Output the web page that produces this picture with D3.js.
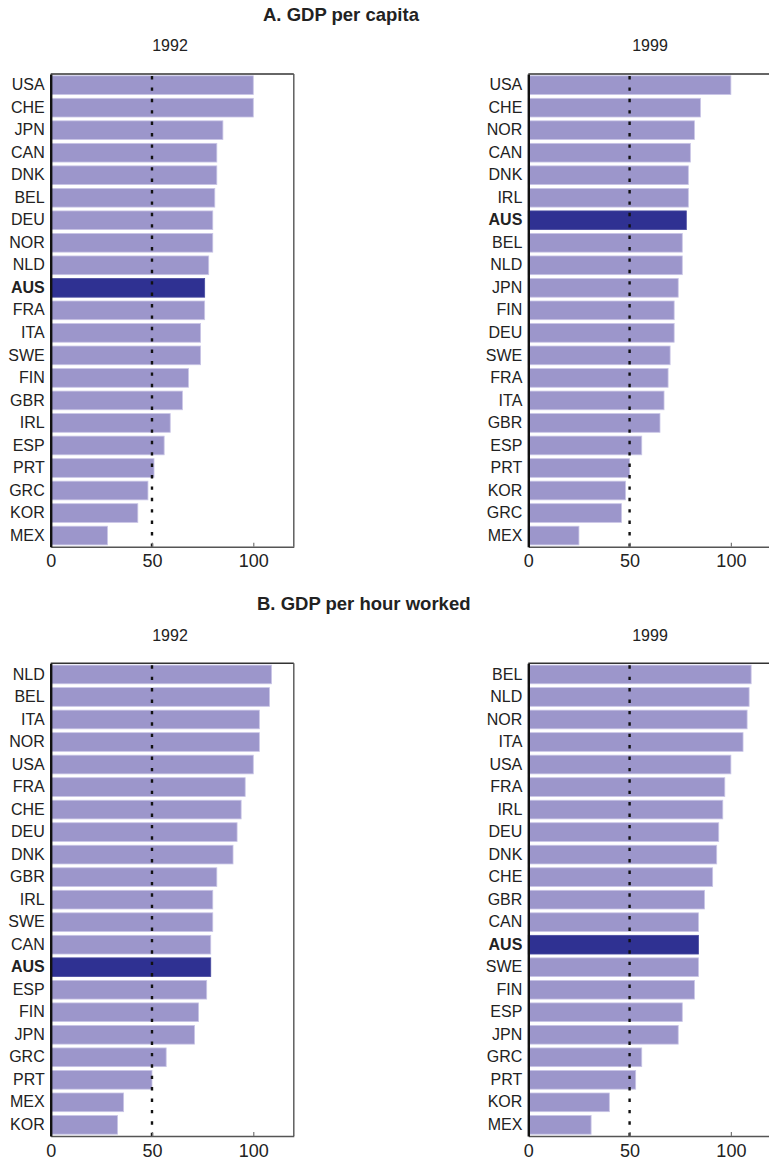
<!DOCTYPE html>
<html>
<head>
<meta charset="utf-8">
<script src="https://cdn.jsdelivr.net/npm/d3@7"></script>
<style>
  html, body { margin: 0; padding: 0; background: #fff; }
  svg { display: block; font-family: "Liberation Sans", Arial, Helvetica, sans-serif; }
</style>
</head>
<body>
<svg id="chart" width="769" height="1163"></svg>
<script>
// ---- Data ----
const titleA = "A. GDP per capita";
const titleB = "B. GDP per hour worked";
const years = ["1992", "1999"];
const tickValues = [0, 50, 100];
const referenceValue = 50;
const highlight = "AUS";

const capita1992Countries = ["USA","CHE","JPN","CAN","DNK","BEL","DEU","NOR","NLD","AUS","FRA","ITA","SWE","FIN","GBR","IRL","ESP","PRT","GRC","KOR","MEX"];
const capita1992Values    = [100,100,85,82,82,81,80,80,78,76,76,74,74,68,65,59,56,51,48,43,28];

const capita1999Countries = ["USA","CHE","NOR","CAN","DNK","IRL","AUS","BEL","NLD","JPN","FIN","DEU","SWE","FRA","ITA","GBR","ESP","PRT","KOR","GRC","MEX"];
const capita1999Values    = [100,85,82,80,79,79,78,76,76,74,72,72,70,69,67,65,56,50,48,46,25];

const hour1992Countries = ["NLD","BEL","ITA","NOR","USA","FRA","CHE","DEU","DNK","GBR","IRL","SWE","CAN","AUS","ESP","FIN","JPN","GRC","PRT","MEX","KOR"];
const hour1992Values    = [109,108,103,103,100,96,94,92,90,82,80,80,79,79,77,73,71,57,50,36,33];

const hour1999Countries = ["BEL","NLD","NOR","ITA","USA","FRA","IRL","DEU","DNK","CHE","GBR","CAN","AUS","SWE","FIN","ESP","JPN","GRC","PRT","KOR","MEX"];
const hour1999Values    = [110,109,108,106,100,97,96,94,93,91,87,84,84,84,82,76,74,56,53,40,31];

// ---- Layout ----
const svg = d3.select("#chart");
const lightColor = "#9c96cb";
const darkColor = "#2f3192";
const textColor = "#222";

function drawPanel(countries, values, x0, yTop, yBottom) {
  const x = d3.scaleLinear().domain([0, 120]).range([x0, x0 + 243.1]);
  const y = d3.scaleBand().domain(countries).range([yTop, yBottom])
    .paddingInner(0.17).paddingOuter(0.08);
  const g = svg.append("g");
  const data = countries.map((c, i) => ({c, v: values[i]}));

  // frame top and right
  g.append("line").attr("x1", x(0)).attr("x2", x(120)).attr("y1", yTop).attr("y2", yTop)
    .attr("stroke", "#333").attr("stroke-width", 1.4);
  g.append("line").attr("x1", x(120)).attr("x2", x(120)).attr("y1", yTop).attr("y2", yBottom)
    .attr("stroke", "#555").attr("stroke-width", 1.4);

  // bars
  g.selectAll("rect.bar").data(data).enter().append("rect")
    .attr("class", "bar")
    .attr("x", x(0))
    .attr("y", d => y(d.c))
    .attr("width", d => x(d.v) - x(0))
    .attr("height", y.bandwidth())
    .attr("fill", d => d.c === highlight ? darkColor : lightColor)
    .attr("stroke", d => d.c === highlight ? "#4a4ca0" : "#c9c5e6")
    .attr("stroke-width", 0.8);

  // reference dotted line
  g.append("line")
    .attr("x1", x(referenceValue)).attr("x2", x(referenceValue))
    .attr("y1", yTop + 2).attr("y2", yBottom)
    .attr("stroke", "#111").attr("stroke-width", 2.4)
    .attr("stroke-dasharray", "3.4,8");

  // x axis
  const xAxis = g.append("g").attr("transform", `translate(0,${yBottom})`)
    .call(d3.axisBottom(x).tickValues(tickValues).tickSize(-4).tickPadding(8).tickSizeOuter(0));
  xAxis.select(".domain").attr("stroke", "#555").attr("stroke-width", 1.4);
  xAxis.selectAll(".tick line").attr("stroke", "#777").attr("stroke-width", 1.2);
  xAxis.selectAll(".tick text").attr("fill", textColor).style("font-size", "18px");

  // y axis
  const yAxis = g.append("g").attr("transform", `translate(${x(0)},0)`)
    .call(d3.axisLeft(y).tickSize(0).tickPadding(6).tickSizeOuter(0));
  yAxis.select(".domain").attr("stroke", "#111").attr("stroke-width", 2.4);
  yAxis.selectAll(".tick text")
    .attr("fill", textColor)
    .style("font-size", "16px")
    .style("font-weight", d => d === highlight ? "bold" : "normal");
}

// titles
svg.append("text").attr("x", 263).attr("y", 21).attr("fill", textColor)
  .style("font-size", "18.5px").style("font-weight", "bold").text(titleA);
svg.append("text").attr("x", 257).attr("y", 610).attr("fill", textColor)
  .style("font-size", "18.5px").style("font-weight", "bold").text(titleB);

// year labels
const yearX = [170, 650];
[51, 641].forEach(yy => {
  years.forEach((yr, i) => {
    svg.append("text").attr("x", yearX[i]).attr("y", yy).attr("text-anchor", "middle")
      .attr("fill", textColor).style("font-size", "16px").text(yr);
  });
});

drawPanel(capita1992Countries, capita1992Values, 50.7, 74, 546.7);
drawPanel(capita1999Countries, capita1999Values, 528.3, 74, 546.7);
drawPanel(hour1992Countries, hour1992Values, 50.7, 663.3, 1136);
drawPanel(hour1999Countries, hour1999Values, 528.3, 663.3, 1136);
</script>
</body>
</html>
